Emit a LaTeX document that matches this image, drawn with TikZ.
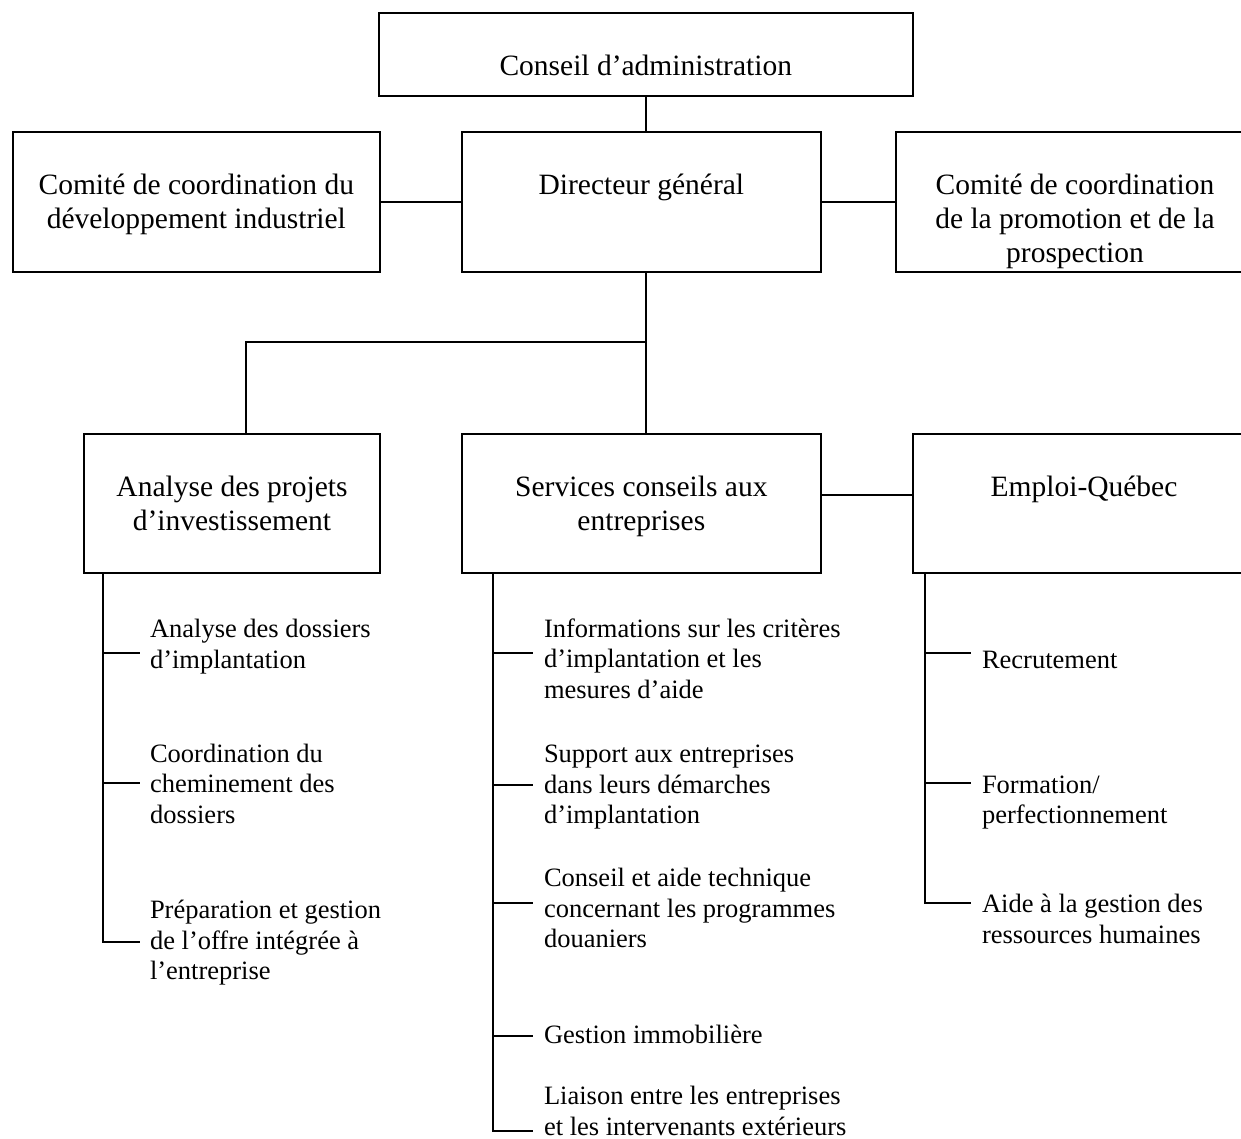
\documentclass[tikz,border=0pt]{standalone}
\usepackage{fontspec}
\setmainfont{Liberation Serif}
\newcommand{\boxtxt}[3]{\parbox[t][#2][t]{#1}{\centering\fontsize{29.5pt}{34pt}\selectfont\rule{0pt}{62.5pt}#3}}
\newcommand{\subtxt}[1]{\parbox[t]{420pt}{\raggedright\fontsize{26.5pt}{30.5pt}\selectfont #1}}
\tikzset{
  orgbox/.style={draw, line width=2pt, inner sep=0pt, outer sep=0pt, rectangle, anchor=north west},
  lnk/.style={line width=2pt},
  subitem/.style={inner sep=0pt, outer sep=0pt, anchor=base west},
}
\begin{document}
\begin{tikzpicture}[x=1pt,y=-1pt]
\useasboundingbox (0,0) rectangle (1241,1139);
\clip (0,0) rectangle (1241,1139);
% boxes
\node[orgbox] (conseil) at (379,12.7) {\boxtxt{533.5pt}{83.3pt}{Conseil d’administration}};
\node[orgbox] (comiteL) at (12.6,131.7) {\boxtxt{367.4pt}{140pt}{Comité de coordination du\\développement industriel}};
\node[orgbox] (directeur) at (461.7,131.7) {\boxtxt{359.3pt}{140pt}{Directeur général}};
\node[orgbox] (comiteR) at (896,131.7) {\boxtxt{358pt}{140pt}{Comité de coordination\\de la promotion et de la\\prospection}};
\node[orgbox] (analyse) at (84,434) {\boxtxt{296pt}{138.7pt}{Analyse des projets\\d’investissement}};
\node[orgbox] (services) at (461.7,434) {\boxtxt{359.3pt}{138.7pt}{Services conseils aux\\entreprises}};
\node[orgbox] (emploi) at (913,434) {\boxtxt{342pt}{138.7pt}{Emploi-Québec}};
% helper coordinates
\coordinate (tx) at (646,0);
\coordinate (junc) at (646,341.7);
\coordinate (bx) at (246,0);
\coordinate (ax) at (103,0);
\coordinate (sx) at (493,0);
\coordinate (ex) at (925,0);
% main connectors
\draw[lnk] (conseil.south) -- (conseil.south |- directeur.north);
\draw[lnk] (comiteL.east) -- (directeur.west);
\draw[lnk] (directeur.east) -- (comiteR.west);
\draw[lnk] (tx |- directeur.south) -- (tx |- services.north);
\draw[lnk] (junc) -| (bx |- analyse.north);
\draw[lnk] ([yshift=8.5pt]services.east) -- ([yshift=8.5pt]services.east -| emploi.west);
% sub items: Analyse
\node[subitem] (a1) at (150,637.5) {\subtxt{Analyse des dossiers\\d’implantation}};
\node[subitem] (a2) at (150,762) {\subtxt{Coordination du\\cheminement des\\dossiers}};
\node[subitem] (a3) at (150,918.5) {\subtxt{Préparation et gestion\\de l’offre intégrée à\\l’entreprise}};
\coordinate (ta1) at (140,653);
\coordinate (ta2) at (140,783);
\coordinate (ta3) at (140,942);
\draw[lnk] (ax |- analyse.south) |- (ta3);
\draw[lnk] (ax |- ta1) -- (ta1);
\draw[lnk] (ax |- ta2) -- (ta2);
% sub items: Services
\node[subitem] (s1) at (544,637) {\subtxt{Informations sur les critères\\d’implantation et les\\mesures d’aide}};
\node[subitem] (s2) at (544,762.5) {\subtxt{Support aux entreprises\\dans leurs démarches\\d’implantation}};
\node[subitem] (s3) at (544,886.5) {\subtxt{Conseil et aide technique\\concernant les programmes\\douaniers}};
\node[subitem] (s4) at (544,1043) {\subtxt{Gestion immobilière}};
\node[subitem] (s5) at (544,1104.5) {\subtxt{Liaison entre les entreprises\\et les intervenants extérieurs}};
\coordinate (ts1) at (533,653);
\coordinate (ts2) at (533,785);
\coordinate (ts3) at (533,903);
\coordinate (ts4) at (533,1036);
\coordinate (ts5) at (533,1131);
\draw[lnk] (sx |- services.south) |- (ts5);
\draw[lnk] (sx |- ts1) -- (ts1);
\draw[lnk] (sx |- ts2) -- (ts2);
\draw[lnk] (sx |- ts3) -- (ts3);
\draw[lnk] (sx |- ts4) -- (ts4);
% sub items: Emploi
\node[subitem] (e1) at (982,668) {\subtxt{Recrutement}};
\node[subitem] (e2) at (982,793) {\subtxt{Formation/\\perfectionnement}};
\node[subitem] (e3) at (982,912.5) {\subtxt{Aide à la gestion des\\ressources humaines}};
\coordinate (te1) at (971,653);
\coordinate (te2) at (971,783);
\coordinate (te3) at (971,903);
\draw[lnk] (ex |- emploi.south) |- (te3);
\draw[lnk] (ex |- te1) -- (te1);
\draw[lnk] (ex |- te2) -- (te2);
\end{tikzpicture}
\end{document}
